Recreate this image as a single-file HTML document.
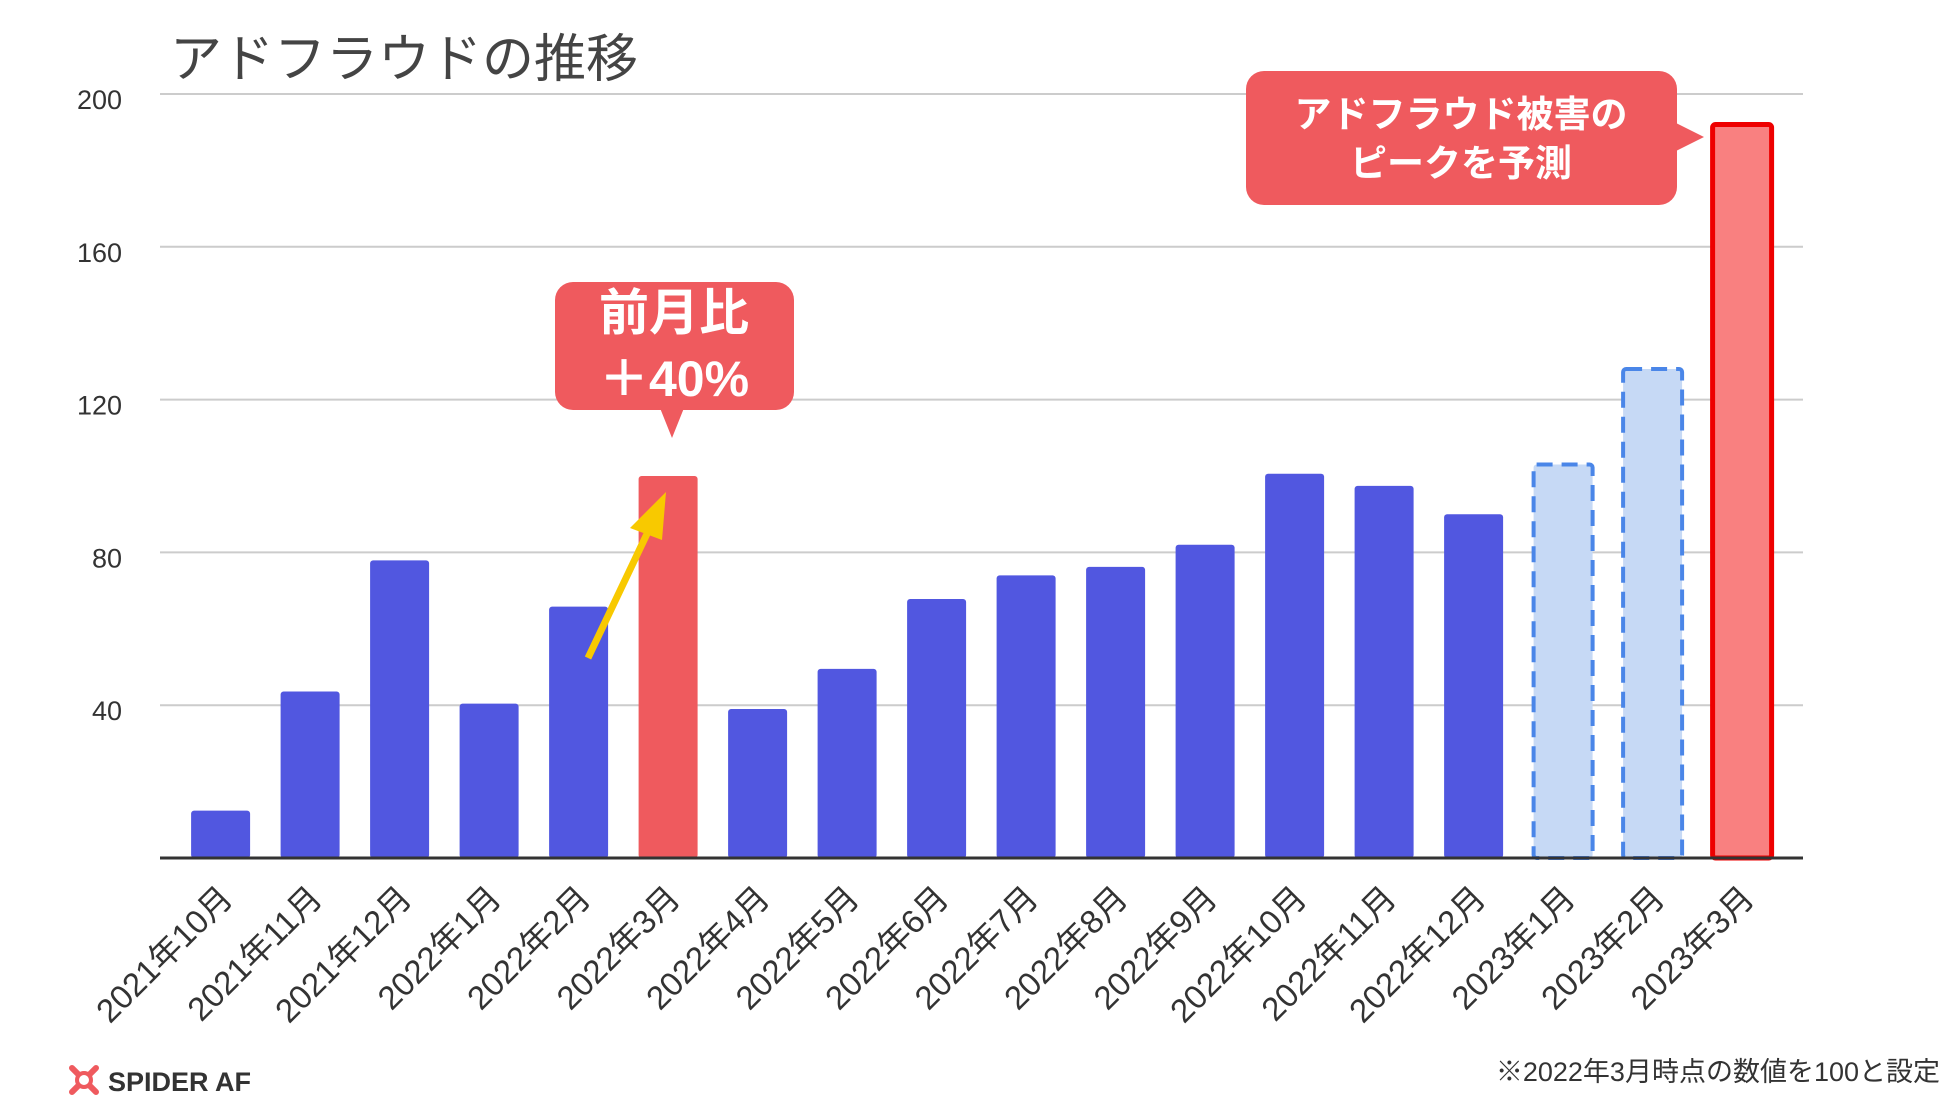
<!DOCTYPE html>
<html><head><meta charset="utf-8"><style>
html,body{margin:0;padding:0;background:#fff;}
svg{display:block;font-family:"Liberation Sans","Noto Sans CJK JP",sans-serif;}
</style></head><body>
<svg id="chart" width="1950" height="1097" viewBox="0 0 1950 1097" xmlns="http://www.w3.org/2000/svg">
<text x="170" y="77" font-size="52" fill="#444">アドフラウドの推移</text>
<g id="grid"></g>
<g id="bars"></g>
<line x1="160" y1="858" x2="1803" y2="858" stroke="#333" stroke-width="3"/>
<g id="xlabels"></g>
<line x1="588" y1="658" x2="655" y2="517" stroke="#f8c900" stroke-width="7"/>
<polygon points="666,492 630,528 662,540" fill="#f8c900"/>
<g>
<rect x="555" y="282" width="239" height="128" rx="18" fill="#ef5a5e"/>
<polygon points="660,408 684,408 672,438" fill="#ef5a5e"/>
<text x="674" y="330" font-size="50" font-weight="bold" fill="#fff" text-anchor="middle">前月比</text>
<text x="674" y="396" font-size="50" font-weight="bold" fill="#fff" text-anchor="middle">＋40%</text>
</g>
<g>
<rect x="1246" y="71" width="431" height="134" rx="18" fill="#ef5a5e"/>
<polygon points="1674,122 1674,152 1704,137" fill="#ef5a5e"/>
<text x="1461" y="127" font-size="37" font-weight="bold" fill="#fff" text-anchor="middle">アドフラウド被害の</text>
<text x="1461" y="176" font-size="37" font-weight="bold" fill="#fff" text-anchor="middle">ピークを予測</text>
</g>
<g>
<g stroke="#ef5a5e" stroke-width="6" stroke-linecap="round"><line x1="72" y1="1068" x2="96" y2="1092"/><line x1="96" y1="1068" x2="72" y2="1092"/></g>
<circle cx="84" cy="1080" r="7" fill="#fff" stroke="#ef5a5e" stroke-width="4"/>
<text x="108" y="1091" font-size="27" font-weight="bold" fill="#333">SPIDER AF</text>
</g>
<text x="1940" y="1081" font-size="27" fill="#333" text-anchor="end">※2022年3月時点の数値を100と設定</text>
</svg>
<script>
const categories=["2021年10月","2021年11月","2021年12月","2022年1月","2022年2月","2022年3月","2022年4月","2022年5月","2022年6月","2022年7月","2022年8月","2022年9月","2022年10月","2022年11月","2022年12月","2023年1月","2023年2月","2023年3月"];
const values=[12.4,43.6,77.9,40.4,65.8,100,39,49.5,67.8,74,76.2,82,100.6,97.4,90,103,128,192];
const barKinds=["actual","actual","actual","actual","actual","highlight","actual","actual","actual","actual","actual","actual","actual","actual","actual","forecast","forecast","peak"];
const yTicks=[40,80,120,160,200];
const NS="http://www.w3.org/2000/svg";
const y=v=>858-v*3.82;
const x=i=>220.6+i*89.5;
const BW=59;
function mk(t,a){const e=document.createElementNS(NS,t);for(const k in a)e.setAttribute(k,a[k]);return e;}
const grid=document.getElementById('grid');
yTicks.forEach(t=>{
 const l=mk('line',{x1:160,x2:1803,y1:y(t),y2:y(t),stroke:'#ccc','stroke-width':2});
 
 
 grid.appendChild(l);
 const tx=mk('text',{x:122,y:y(t)+15,'font-size':27,fill:'#333','text-anchor':'end'});
 tx.textContent=t;
 
 
 grid.appendChild(tx);
});
const bars=document.getElementById('bars'),xl=document.getElementById('xlabels');
values.forEach((v,i)=>{
 const k=barKinds[i];let a;
 const top=y(v),h=858-top;
 if(k==='actual')a={fill:'#5157e0'};
 else if(k==='highlight')a={fill:'#ef5a5e'};
 else if(k==='forecast')a={fill:'#c6d9f5',stroke:'#4a86e8','stroke-width':4,'stroke-dasharray':'16 9'};
 else a={fill:'#f98080',stroke:'#e00','stroke-width':5};
 const r=mk('rect',Object.assign({x:x(i)-BW/2,y:top,width:BW,height:h,rx:3},a));
 
 
 bars.appendChild(r);
 const t=mk('text',{x:0,y:0,'font-size':33,fill:'#333','text-anchor':'end',transform:`translate(${x(i)+14},${900}) rotate(-45)`});
 t.textContent=categories[i];
 
 
 xl.appendChild(t);
});
</script>
</body></html>
